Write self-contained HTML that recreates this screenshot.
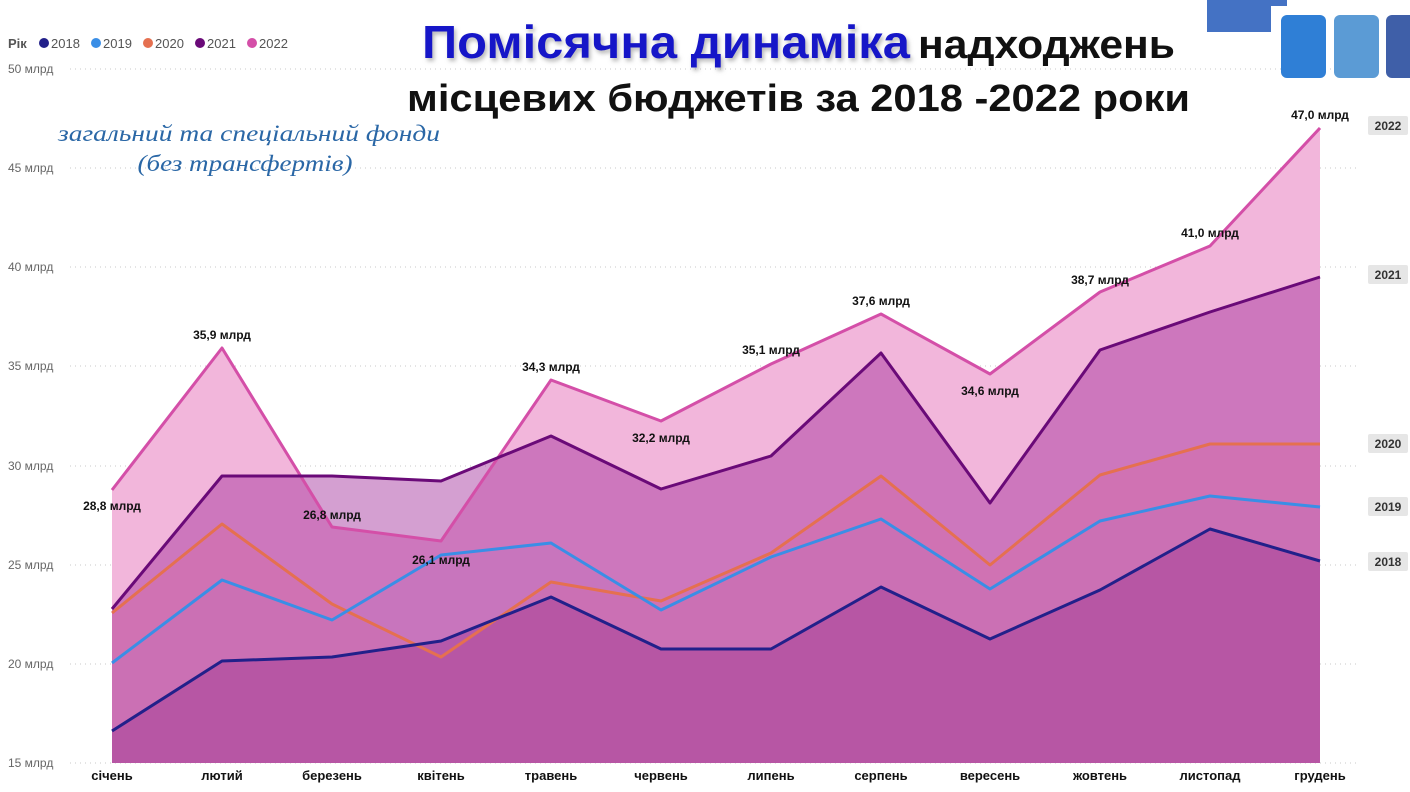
<!DOCTYPE html>
<html><head><meta charset="utf-8"><style>
html,body{margin:0;padding:0;background:#fff;}
svg{display:block;}
</style></head><body>
<svg width="1410" height="792" viewBox="0 0 1410 792" xmlns="http://www.w3.org/2000/svg">
<defs>
<filter id="sh" x="-5%" y="-20%" width="110%" height="140%"><feDropShadow dx="2" dy="3" stdDeviation="2" flood-color="#888" flood-opacity="0.6"/></filter>
</defs>
<rect width="1410" height="792" fill="#fff"/>
<g stroke="#c8c8c8" stroke-width="1" stroke-dasharray="1,4">
<line x1="70" y1="69" x2="1360" y2="69"/>
<line x1="70" y1="168" x2="1360" y2="168"/>
<line x1="70" y1="267" x2="1360" y2="267"/>
<line x1="70" y1="366" x2="1360" y2="366"/>
<line x1="70" y1="466" x2="1360" y2="466"/>
<line x1="70" y1="565" x2="1360" y2="565"/>
<line x1="70" y1="664" x2="1360" y2="664"/>
<line x1="70" y1="763" x2="1360" y2="763"/>
</g>
<g font-family="Liberation Sans, sans-serif" font-size="12" fill="#666">
<text x="8" y="73">50 млрд</text>
<text x="8" y="172">45 млрд</text>
<text x="8" y="271">40 млрд</text>
<text x="8" y="370">35 млрд</text>
<text x="8" y="470">30 млрд</text>
<text x="8" y="569">25 млрд</text>
<text x="8" y="668">20 млрд</text>
<text x="8" y="767">15 млрд</text>
</g>
<polygon fill="#f2b6db" points="112,763 112,490 222,348 332,527 441,541 551,380 661,421 771,364 881,314 990,374 1100,292 1210,246 1320,128 1320,763"/>
<polygon fill="#a02a98" fill-opacity="0.45" points="112,763 112,609 222,476 332,476 441,481 551,436 661,489 771,456 881,353 990,503 1100,350 1210,312 1320,277 1320,763"/>
<polygon fill="#e8506a" fill-opacity="0.12" points="112,763 112,613 222,524 332,604 441,657 551,582 661,601 771,553 881,476 990,565 1100,475 1210,444 1320,444 1320,763"/>
<polygon fill="#8050c8" fill-opacity="0.06" points="112,763 112,663 222,580 332,620 441,555 551,543 661,610 771,557 881,519 990,589 1100,521 1210,496 1320,507 1320,763"/>
<polygon fill="#8a1a80" fill-opacity="0.3" points="112,763 112,731 222,661 332,657 441,641 551,597 661,649 771,649 881,587 990,639 1100,590 1210,529 1320,561 1320,763"/>
<g fill="none" stroke-width="3" stroke-linejoin="round">
<polyline stroke="#d44fa8" points="112,490 222,348 332,527 441,541 551,380 661,421 771,364 881,314 990,374 1100,292 1210,246 1320,128"/>
<polyline stroke="#6a0a78" points="112,609 222,476 332,476 441,481 551,436 661,489 771,456 881,353 990,503 1100,350 1210,312 1320,277"/>
<polyline stroke="#e57050" points="112,613 222,524 332,604 441,657 551,582 661,601 771,553 881,476 990,565 1100,475 1210,444 1320,444"/>
<polyline stroke="#3a8ee6" points="112,663 222,580 332,620 441,555 551,543 661,610 771,557 881,519 990,589 1100,521 1210,496 1320,507"/>
<polyline stroke="#22208a" points="112,731 222,661 332,657 441,641 551,597 661,649 771,649 881,587 990,639 1100,590 1210,529 1320,561"/>
</g>
<g font-family="Liberation Sans, sans-serif" font-size="12" font-weight="bold" fill="#111" text-anchor="middle">
<text x="112" y="510">28,8 млрд</text>
<text x="222" y="339">35,9 млрд</text>
<text x="332" y="519">26,8 млрд</text>
<text x="441" y="564">26,1 млрд</text>
<text x="551" y="371">34,3 млрд</text>
<text x="661" y="442">32,2 млрд</text>
<text x="771" y="354">35,1 млрд</text>
<text x="881" y="305">37,6 млрд</text>
<text x="990" y="395">34,6 млрд</text>
<text x="1100" y="284">38,7 млрд</text>
<text x="1210" y="237">41,0 млрд</text>
<text x="1320" y="119">47,0 млрд</text>
</g>
<g font-family="Liberation Sans, sans-serif" font-size="12" font-weight="bold" fill="#333" text-anchor="middle">
<rect x="1368" y="116" width="40" height="19" fill="#e6e6e6" rx="2"/><text x="1388" y="130">2022</text>
<rect x="1368" y="265" width="40" height="19" fill="#e6e6e6" rx="2"/><text x="1388" y="279">2021</text>
<rect x="1368" y="434" width="40" height="19" fill="#e6e6e6" rx="2"/><text x="1388" y="448">2020</text>
<rect x="1368" y="497" width="40" height="19" fill="#e6e6e6" rx="2"/><text x="1388" y="511">2019</text>
<rect x="1368" y="552" width="40" height="19" fill="#e6e6e6" rx="2"/><text x="1388" y="566">2018</text>
</g>
<g font-family="Liberation Sans, sans-serif" font-size="13" font-weight="bold" fill="#111" text-anchor="middle">
<text x="112" y="780">січень</text>
<text x="222" y="780">лютий</text>
<text x="332" y="780">березень</text>
<text x="441" y="780">квітень</text>
<text x="551" y="780">травень</text>
<text x="661" y="780">червень</text>
<text x="771" y="780">липень</text>
<text x="881" y="780">серпень</text>
<text x="990" y="780">вересень</text>
<text x="1100" y="780">жовтень</text>
<text x="1210" y="780">листопад</text>
<text x="1320" y="780">грудень</text>
</g>
<g font-family="Liberation Sans, sans-serif" font-size="13" fill="#555">
<text x="8" y="48" font-weight="bold">Рік</text>
<circle cx="44" cy="43" r="5" fill="#22208a"/><text x="51" y="48">2018</text>
<circle cx="96" cy="43" r="5" fill="#3a8ee6"/><text x="103" y="48">2019</text>
<circle cx="148" cy="43" r="5" fill="#e57050"/><text x="155" y="48">2020</text>
<circle cx="200" cy="43" r="5" fill="#6a0a78"/><text x="207" y="48">2021</text>
<circle cx="252" cy="43" r="5" fill="#d44fa8"/><text x="259" y="48">2022</text>
</g>
<rect x="1207" y="0" width="64" height="32" fill="#4472c4"/>
<rect x="1207" y="0" width="80" height="6" fill="#4472c4"/>
<rect x="1281" y="15" width="45" height="63" rx="6" fill="#2f7fd6"/>
<rect x="1334" y="15" width="45" height="63" rx="6" fill="#5b9bd5"/>
<rect x="1386" y="15" width="30" height="63" rx="6" fill="#3f5fa8"/>
<text x="422" y="58" font-family="Liberation Sans, sans-serif" font-weight="bold" font-size="46" fill="#1616c8" filter="url(#sh)" textLength="488" lengthAdjust="spacingAndGlyphs">Помісячна динаміка</text>
<text x="918" y="58" font-family="Liberation Sans, sans-serif" font-weight="bold" font-size="40" fill="#111" textLength="257" lengthAdjust="spacingAndGlyphs">надходжень</text>
<text x="407" y="111" font-family="Liberation Sans, sans-serif" font-weight="bold" font-size="38" fill="#111" textLength="783" lengthAdjust="spacingAndGlyphs">місцевих бюджетів за 2018 -2022 роки</text>
<g font-family="Liberation Serif, serif" font-style="italic" font-size="23" fill="#2a67a6" text-anchor="middle">
<text x="249" y="141" textLength="382" lengthAdjust="spacingAndGlyphs">загальний та спеціальний фонди</text>
<text x="245" y="171" textLength="215" lengthAdjust="spacingAndGlyphs">(без трансфертів)</text>
</g>
</svg>
</body></html>
